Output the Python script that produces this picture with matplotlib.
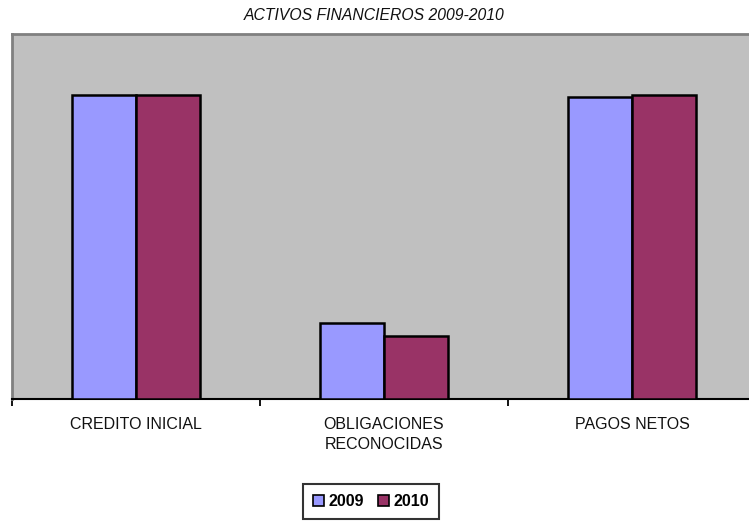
import matplotlib
matplotlib.use("Agg")
import matplotlib.pyplot as plt
from matplotlib.patches import Patch
import numpy as np

categories = ["CREDITO INICIAL", "OBLIGACIONES\nRECONOCIDAS", "PAGOS NETOS"]
series_names = ["2009", "2010"]
values_2009 = [100.0, 25.1, 99.2]
values_2010 = [100.0, 20.7, 100.0]
colors = ["#9999FF", "#993366"]

plt.rcParams['font.family'] = ['Liberation Sans', 'DejaVu Sans']

W, H = 749, 521
fig = plt.figure(figsize=(W / 100, H / 100), dpi=100)
left, top, bottom = 12, 34, 399
ax = fig.add_axes([left / W, 1 - bottom / H, 744 / W, (bottom - top) / H])
ax.set_facecolor("#C0C0C0")

x = np.arange(len(categories))
bw = 0.258
ax.bar(x - bw / 2, values_2009, bw, color=colors[0], edgecolor="black", linewidth=1.8, zorder=3)
ax.bar(x + bw / 2, values_2010, bw, color=colors[1], edgecolor="black", linewidth=1.8, zorder=3)

ax.set_xlim(-0.5, 2.5)
ax.set_ylim(0, 120)
ax.set_yticks([])

ax.set_xticks([-0.5, 0.5, 1.5, 2.5])
ax.set_xticklabels([])
ax.tick_params(axis='x', which='major', direction='out', length=5, width=1.3, color='black')
ax.set_xticks(x, minor=True)
ax.set_xticklabels(categories, minor=True, fontsize=11.5, color='#111111', linespacing=1.4)
ax.tick_params(axis='x', which='minor', length=0, pad=13)

for s in ["left", "top"]:
    ax.spines[s].set_color("#808080")
    ax.spines[s].set_linewidth(2)
ax.spines["right"].set_visible(False)
ax.spines["bottom"].set_color("black")
ax.spines["bottom"].set_linewidth(1.5)

fig.text(0.5, 1 - 15 / H, "ACTIVOS FINANCIEROS 2009-2010", ha='center', va='center',
         fontsize=11.3, style='italic', color='#111111')

handles = [Patch(facecolor=c, edgecolor='black', linewidth=1.2) for c in colors]
leg = fig.legend(handles, series_names, loc='center', bbox_to_anchor=(371 / W, 1 - 501.5 / H),
                 ncol=2, frameon=True, fancybox=False, edgecolor='black',
                 prop={'weight': 'bold', 'size': 11.5}, handlelength=0.7, handleheight=0.7,
                 handletextpad=0.25, columnspacing=0.9, borderpad=0.6)
leg.get_frame().set_linewidth(1.5)

fig.savefig("out.png", dpi=100)
